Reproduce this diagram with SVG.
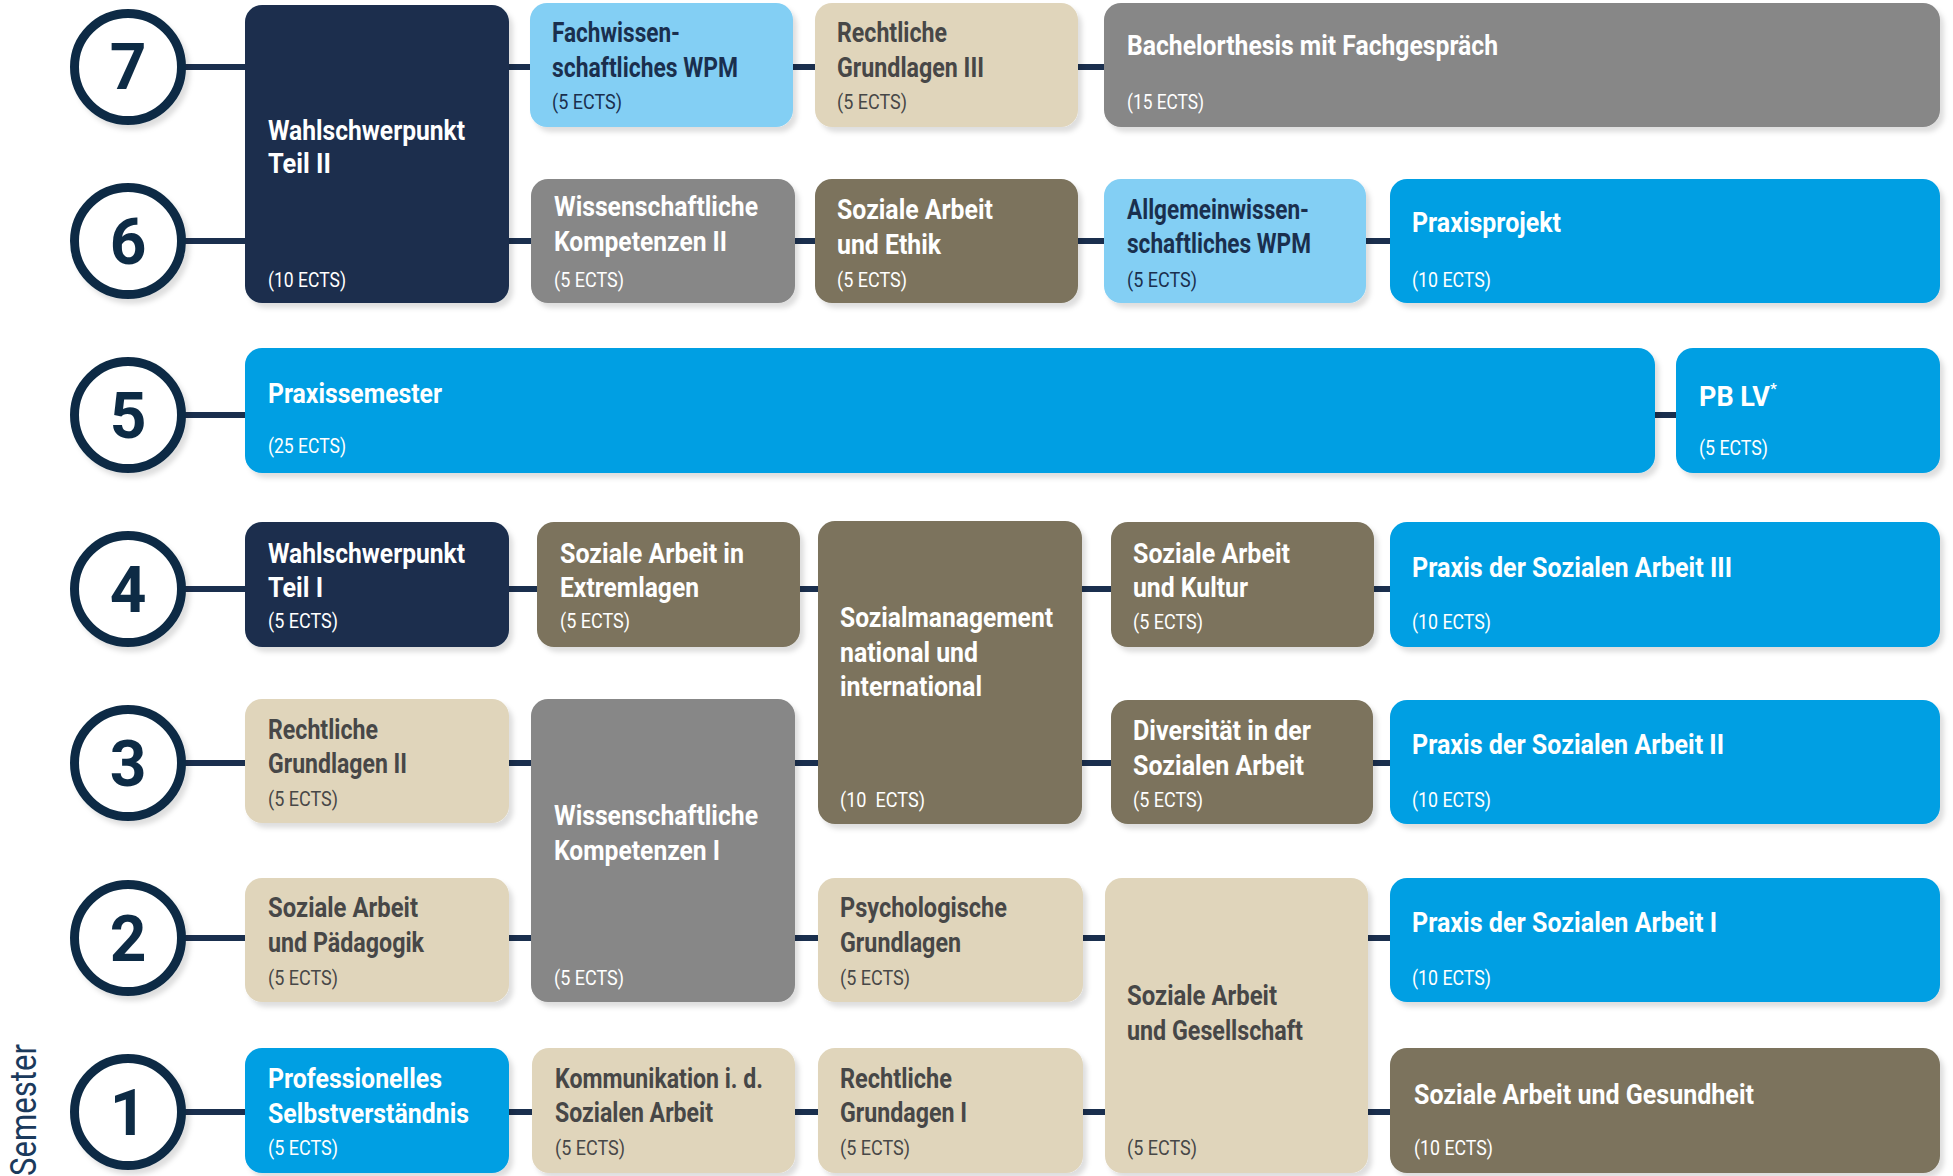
<svg xmlns="http://www.w3.org/2000/svg" width="1953" height="1176" viewBox="0 0 1953 1176">
<defs>
<filter id="sh" x="-10%" y="-10%" width="125%" height="130%">
<feDropShadow dx="4" dy="5" stdDeviation="2.5" flood-color="#000" flood-opacity="0.13"/>
</filter>
<style>
.bx{filter:url(#sh)}
.navy{fill:#1a2f4e}.lb{fill:#83cff4}.be{fill:#e0d5bb}.gr{fill:#878787}.ol{fill:#7b735d}.bl{fill:#009fe3}
text{font-family:Roboto,"Liberation Sans",sans-serif}
.t{font-weight:700;font-size:27px}
.e{font-weight:400;font-size:20px}
.w{fill:#ffffff}.d{fill:#474747}.n{fill:#1a2f4e}
.num{font-weight:700;font-size:64px;fill:#0d2b45;text-anchor:middle}
.circ{fill:#ffffff;stroke:#0d2b45;stroke-width:9}
.ln{stroke:#1a2f4e;stroke-width:6;fill:none}
</style>
</defs>
<rect width="1953" height="1176" fill="#ffffff"/>

<g id="connectors">
<line class="ln" x1="180" y1="67" x2="1940" y2="67"/>
<line class="ln" x1="180" y1="241" x2="1940" y2="241"/>
<line class="ln" x1="180" y1="415" x2="1940" y2="415"/>
<line class="ln" x1="180" y1="589" x2="1940" y2="589"/>
<line class="ln" x1="180" y1="763" x2="1940" y2="763"/>
<line class="ln" x1="180" y1="938" x2="1940" y2="938"/>
<line class="ln" x1="180" y1="1112" x2="1940" y2="1112"/>
</g>

<g id="semesters">
<g id="sem7"><circle class="circ bx" cx="128" cy="67" r="53.5"/><text class="num" x="128" y="89">7</text></g>
<g id="sem6"><circle class="circ bx" cx="128" cy="241" r="53.5"/><text class="num" x="128" y="264">6</text></g>
<g id="sem5"><circle class="circ bx" cx="128" cy="415" r="53.5"/><text class="num" x="128" y="438">5</text></g>
<g id="sem4"><circle class="circ bx" cx="128" cy="589" r="53.5"/><text class="num" x="128" y="612">4</text></g>
<g id="sem3"><circle class="circ bx" cx="128" cy="763" r="53.5"/><text class="num" x="128" y="786">3</text></g>
<g id="sem2"><circle class="circ bx" cx="128" cy="938" r="53.5"/><text class="num" x="128" y="961">2</text></g>
<g id="sem1"><circle class="circ bx" cx="128" cy="1112" r="53.5"/><text class="num" x="128" y="1135">1</text></g>
</g>

<text transform="translate(36,1044) rotate(-90)" text-anchor="end" font-size="36" fill="#1b3a5c" textLength="132" lengthAdjust="spacingAndGlyphs" style="font-family:Roboto,'Liberation Sans',sans-serif;font-weight:400">Semester</text>

<!-- Row 7 / 6 -->
<g id="wst2"><rect class="bx navy" x="245" y="5" width="264" height="298" rx="17"/>
<text class="t w" x="268" y="140" textLength="197" lengthAdjust="spacingAndGlyphs">Wahlschwerpunkt</text>
<text class="t w" x="268" y="173" textLength="63" lengthAdjust="spacingAndGlyphs">Teil II</text>
<text class="e w" x="268" y="287" textLength="78" lengthAdjust="spacingAndGlyphs">(10 ECTS)</text></g>

<g id="fachwissen"><rect class="bx lb" x="530" y="3" width="263" height="124" rx="17"/>
<text class="t n" x="552" y="42" textLength="128" lengthAdjust="spacingAndGlyphs">Fachwissen-</text>
<text class="t n" x="552" y="77" textLength="186" lengthAdjust="spacingAndGlyphs">schaftliches WPM</text>
<text class="e n" x="552" y="109" textLength="70" lengthAdjust="spacingAndGlyphs">(5 ECTS)</text></g>

<g id="recht3"><rect class="bx be" x="815" y="3" width="263" height="124" rx="17"/>
<text class="t d" x="837" y="42" textLength="110" lengthAdjust="spacingAndGlyphs">Rechtliche</text>
<text class="t d" x="837" y="77" textLength="147" lengthAdjust="spacingAndGlyphs">Grundlagen III</text>
<text class="e d" x="837" y="109" textLength="70" lengthAdjust="spacingAndGlyphs">(5 ECTS)</text></g>

<g id="bachelor"><rect class="bx gr" x="1104" y="3" width="836" height="124" rx="17"/>
<text class="t w" x="1127" y="55" textLength="371" lengthAdjust="spacingAndGlyphs">Bachelorthesis mit Fachgespräch</text>
<text class="e w" x="1127" y="109" textLength="77" lengthAdjust="spacingAndGlyphs">(15 ECTS)</text></g>

<g id="wisskomp2"><rect class="bx gr" x="531" y="179" width="264" height="124" rx="17"/>
<text class="t w" x="554" y="216" textLength="204" lengthAdjust="spacingAndGlyphs">Wissenschaftliche</text>
<text class="t w" x="554" y="251" textLength="173" lengthAdjust="spacingAndGlyphs">Kompetenzen II</text>
<text class="e w" x="554" y="287" textLength="70" lengthAdjust="spacingAndGlyphs">(5 ECTS)</text></g>

<g id="ethik"><rect class="bx ol" x="815" y="179" width="263" height="124" rx="17"/>
<text class="t w" x="837" y="219" textLength="156" lengthAdjust="spacingAndGlyphs">Soziale Arbeit</text>
<text class="t w" x="837" y="254" textLength="104" lengthAdjust="spacingAndGlyphs">und Ethik</text>
<text class="e w" x="837" y="287" textLength="70" lengthAdjust="spacingAndGlyphs">(5 ECTS)</text></g>

<g id="allgemein"><rect class="bx lb" x="1104" y="179" width="262" height="124" rx="17"/>
<text class="t n" x="1127" y="219" textLength="182" lengthAdjust="spacingAndGlyphs">Allgemeinwissen-</text>
<text class="t n" x="1127" y="253" textLength="184" lengthAdjust="spacingAndGlyphs">schaftliches WPM</text>
<text class="e n" x="1127" y="287" textLength="70" lengthAdjust="spacingAndGlyphs">(5 ECTS)</text></g>

<g id="praxisprojekt"><rect class="bx bl" x="1390" y="179" width="550" height="124" rx="17"/>
<text class="t w" x="1412" y="232" textLength="149" lengthAdjust="spacingAndGlyphs">Praxisprojekt</text>
<text class="e w" x="1412" y="287" textLength="79" lengthAdjust="spacingAndGlyphs">(10 ECTS)</text></g>

<!-- Row 5 -->
<g id="praxissemester"><rect class="bx bl" x="245" y="348" width="1410" height="125" rx="17"/>
<text class="t w" x="268" y="403" textLength="174" lengthAdjust="spacingAndGlyphs">Praxissemester</text>
<text class="e w" x="268" y="453" textLength="78" lengthAdjust="spacingAndGlyphs">(25 ECTS)</text></g>

<g id="pblv"><rect class="bx bl" x="1676" y="348" width="264" height="125" rx="17"/>
<text class="t w" x="1699" y="406">PB LV<tspan font-size="15" dy="-12">*</tspan></text>
<text class="e w" x="1699" y="455" textLength="69" lengthAdjust="spacingAndGlyphs">(5 ECTS)</text></g>

<!-- Row 4 / 3 -->
<g id="wst1"><rect class="bx navy" x="245" y="522" width="264" height="125" rx="17"/>
<text class="t w" x="268" y="563" textLength="197" lengthAdjust="spacingAndGlyphs">Wahlschwerpunkt</text>
<text class="t w" x="268" y="597" textLength="55" lengthAdjust="spacingAndGlyphs">Teil I</text>
<text class="e w" x="268" y="628" textLength="70" lengthAdjust="spacingAndGlyphs">(5 ECTS)</text></g>

<g id="extremlagen"><rect class="bx ol" x="537" y="522" width="263" height="125" rx="17"/>
<text class="t w" x="560" y="563" textLength="184" lengthAdjust="spacingAndGlyphs">Soziale Arbeit in</text>
<text class="t w" x="560" y="597" textLength="139" lengthAdjust="spacingAndGlyphs">Extremlagen</text>
<text class="e w" x="560" y="628" textLength="70" lengthAdjust="spacingAndGlyphs">(5 ECTS)</text></g>

<g id="sozialmanagement"><rect class="bx ol" x="818" y="521" width="264" height="303" rx="17"/>
<text class="t w" x="840" y="627" textLength="213" lengthAdjust="spacingAndGlyphs">Sozialmanagement</text>
<text class="t w" x="840" y="662" textLength="138" lengthAdjust="spacingAndGlyphs">national und</text>
<text class="t w" x="840" y="696" textLength="142" lengthAdjust="spacingAndGlyphs">international</text>
<text class="e w" x="840" y="807" textLength="85" lengthAdjust="spacingAndGlyphs" xml:space="preserve">(10  ECTS)</text></g>

<g id="kultur"><rect class="bx ol" x="1111" y="522" width="263" height="125" rx="17"/>
<text class="t w" x="1133" y="563" textLength="157" lengthAdjust="spacingAndGlyphs">Soziale Arbeit</text>
<text class="t w" x="1133" y="597" textLength="115" lengthAdjust="spacingAndGlyphs">und Kultur</text>
<text class="e w" x="1133" y="629" textLength="70" lengthAdjust="spacingAndGlyphs">(5 ECTS)</text></g>

<g id="praxis3"><rect class="bx bl" x="1390" y="522" width="550" height="125" rx="17"/>
<text class="t w" x="1412" y="577" textLength="320" lengthAdjust="spacingAndGlyphs">Praxis der Sozialen Arbeit III</text>
<text class="e w" x="1412" y="629" textLength="79" lengthAdjust="spacingAndGlyphs">(10 ECTS)</text></g>

<g id="recht2"><rect class="bx be" x="245" y="699" width="264" height="124" rx="17"/>
<text class="t d" x="268" y="739" textLength="110" lengthAdjust="spacingAndGlyphs">Rechtliche</text>
<text class="t d" x="268" y="773" textLength="139" lengthAdjust="spacingAndGlyphs">Grundlagen II</text>
<text class="e d" x="268" y="806" textLength="70" lengthAdjust="spacingAndGlyphs">(5 ECTS)</text></g>

<g id="wisskomp1"><rect class="bx gr" x="531" y="699" width="264" height="303" rx="17"/>
<text class="t w" x="554" y="825" textLength="204" lengthAdjust="spacingAndGlyphs">Wissenschaftliche</text>
<text class="t w" x="554" y="860" textLength="166" lengthAdjust="spacingAndGlyphs">Kompetenzen I</text>
<text class="e w" x="554" y="985" textLength="70" lengthAdjust="spacingAndGlyphs">(5 ECTS)</text></g>

<g id="diversitaet"><rect class="bx ol" x="1111" y="700" width="262" height="124" rx="17"/>
<text class="t w" x="1133" y="740" textLength="178" lengthAdjust="spacingAndGlyphs">Diversität in der</text>
<text class="t w" x="1133" y="775" textLength="171" lengthAdjust="spacingAndGlyphs">Sozialen Arbeit</text>
<text class="e w" x="1133" y="807" textLength="70" lengthAdjust="spacingAndGlyphs">(5 ECTS)</text></g>

<g id="praxis2"><rect class="bx bl" x="1390" y="700" width="550" height="124" rx="17"/>
<text class="t w" x="1412" y="754" textLength="312" lengthAdjust="spacingAndGlyphs">Praxis der Sozialen Arbeit II</text>
<text class="e w" x="1412" y="807" textLength="79" lengthAdjust="spacingAndGlyphs">(10 ECTS)</text></g>

<!-- Row 2 / 1 -->
<g id="paedagogik"><rect class="bx be" x="245" y="878" width="264" height="124" rx="17"/>
<text class="t d" x="268" y="917" textLength="150" lengthAdjust="spacingAndGlyphs">Soziale Arbeit</text>
<text class="t d" x="268" y="952" textLength="156" lengthAdjust="spacingAndGlyphs">und Pädagogik</text>
<text class="e d" x="268" y="985" textLength="70" lengthAdjust="spacingAndGlyphs">(5 ECTS)</text></g>

<g id="psychologie"><rect class="bx be" x="818" y="878" width="265" height="124" rx="17"/>
<text class="t d" x="840" y="917" textLength="167" lengthAdjust="spacingAndGlyphs">Psychologische</text>
<text class="t d" x="840" y="952" textLength="121" lengthAdjust="spacingAndGlyphs">Grundlagen</text>
<text class="e d" x="840" y="985" textLength="70" lengthAdjust="spacingAndGlyphs">(5 ECTS)</text></g>

<g id="gesellschaft"><rect class="bx be" x="1105" y="878" width="263" height="295" rx="17"/>
<text class="t d" x="1127" y="1005" textLength="150" lengthAdjust="spacingAndGlyphs">Soziale Arbeit</text>
<text class="t d" x="1127" y="1040" textLength="176" lengthAdjust="spacingAndGlyphs">und Gesellschaft</text>
<text class="e d" x="1127" y="1155" textLength="70" lengthAdjust="spacingAndGlyphs">(5 ECTS)</text></g>

<g id="praxis1"><rect class="bx bl" x="1390" y="878" width="550" height="124" rx="17"/>
<text class="t w" x="1412" y="932" textLength="305" lengthAdjust="spacingAndGlyphs">Praxis der Sozialen Arbeit I</text>
<text class="e w" x="1412" y="985" textLength="79" lengthAdjust="spacingAndGlyphs">(10 ECTS)</text></g>

<g id="professionelles"><rect class="bx bl" x="245" y="1048" width="264" height="125" rx="17"/>
<text class="t w" x="268" y="1088" textLength="174" lengthAdjust="spacingAndGlyphs">Professionelles</text>
<text class="t w" x="268" y="1123" textLength="201" lengthAdjust="spacingAndGlyphs">Selbstverständnis</text>
<text class="e w" x="268" y="1155" textLength="70" lengthAdjust="spacingAndGlyphs">(5 ECTS)</text></g>

<g id="kommunikation"><rect class="bx be" x="532" y="1048" width="263" height="125" rx="17"/>
<text class="t d" x="555" y="1088" textLength="208" lengthAdjust="spacingAndGlyphs">Kommunikation i. d.</text>
<text class="t d" x="555" y="1122" textLength="158" lengthAdjust="spacingAndGlyphs">Sozialen Arbeit</text>
<text class="e d" x="555" y="1155" textLength="70" lengthAdjust="spacingAndGlyphs">(5 ECTS)</text></g>

<g id="recht1"><rect class="bx be" x="818" y="1048" width="265" height="125" rx="17"/>
<text class="t d" x="840" y="1088" textLength="112" lengthAdjust="spacingAndGlyphs">Rechtliche</text>
<text class="t d" x="840" y="1122" textLength="127" lengthAdjust="spacingAndGlyphs">Grundagen I</text>
<text class="e d" x="840" y="1155" textLength="70" lengthAdjust="spacingAndGlyphs">(5 ECTS)</text></g>

<g id="gesundheit"><rect class="bx ol" x="1390" y="1048" width="550" height="125" rx="17"/>
<text class="t w" x="1414" y="1104" textLength="340" lengthAdjust="spacingAndGlyphs">Soziale Arbeit und Gesundheit</text>
<text class="e w" x="1414" y="1155" textLength="79" lengthAdjust="spacingAndGlyphs">(10 ECTS)</text></g>
</svg>
